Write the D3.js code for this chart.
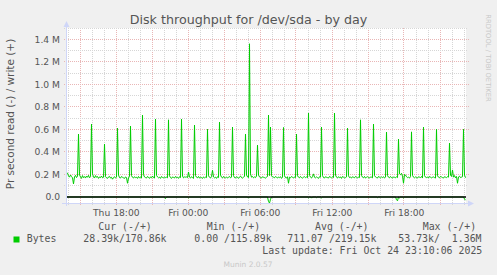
<!DOCTYPE html>
<html>
<head>
<meta charset="utf-8">
<script src="https://cdn.jsdelivr.net/npm/d3@7"></script>
<style>
  body { margin: 0; background: #f0f0f0; }
  svg { display: block; }
  text { font-family: "DejaVu Sans", sans-serif; fill: #555; }
  .mono { font-family: "DejaVu Sans Mono", monospace; white-space: pre; }
</style>
</head>
<body>
<svg id="chart" width="497" height="275"></svg>
<script>
// 5 minute samples, first one at Thu 13:55
const firstSample = "2025-10-23T13:55:00";
const stepMinutes = 5;

// write bytes per second, in k
const writeK = [
  205, 212, 188, 176, 195, 182, 170, 116, 178, 192, 172, 184, 558, 196, 178, 165, 190, 172, 181, 168,
  186, 175, 192, 170, 180, 647, 205, 178, 168, 190, 175, 182, 165, 178, 172, 186, 170, 175, 469, 182,
  170, 165, 178, 183, 168, 175, 158, 172, 180, 168, 176, 611, 195, 172, 168, 182, 175, 170, 165, 178,
  172, 122, 168, 185, 629, 190, 175, 168, 180, 172, 176, 165, 182, 170, 175, 168, 727, 198, 178, 172,
  168, 182, 175, 165, 178, 170, 186, 172, 168, 691, 192, 178, 170, 176, 165, 182, 174, 168, 178, 172,
  176, 170, 685, 188, 172, 165, 178, 174, 168, 182, 172, 176, 165, 180, 172, 691, 186, 170, 178, 176,
  178, 172, 222, 176, 168, 180, 172, 165, 638, 190, 176, 170, 182, 168, 175, 172, 165, 178, 170, 176,
  172, 602, 188, 175, 168, 182, 237, 178, 170, 176, 165, 180, 172, 665, 195, 176, 168, 182, 172, 170,
  178, 168, 175, 182, 170, 176, 620, 190, 172, 168, 180, 175, 165, 178, 186, 172, 168, 176, 182, 558,
  195, 178, 172, 1360, 205, 176, 182, 170, 178, 172, 186, 460, 195, 178, 172, 168, 180, 175, 172, 168,
  176, 182, 727, 190, 620, 188, 178, 176, 170, 182, 175, 168, 178, 172, 180, 165, 176, 617, 190, 172,
  168, 180, 122, 176, 170, 182, 175, 168, 178, 172, 558, 188, 176, 170, 182, 172, 168, 176, 180, 172,
  178, 170, 745, 192, 176, 168, 182, 205, 175, 170, 178, 172, 165, 180, 176, 620, 190, 172, 168, 180,
  175, 172, 168, 182, 176, 170, 178, 172, 745, 195, 176, 168, 180, 172, 178, 165, 182, 176, 170, 172,
  178, 611, 188, 172, 176, 168, 180, 175, 170, 182, 176, 168, 178, 172, 685, 192, 176, 170, 182, 168,
  175, 180, 172, 168, 178, 176, 170, 647, 190, 178, 172, 168, 182, 176, 170, 178, 172, 180, 168, 176,
  576, 190, 176, 170, 182, 172, 168, 178, 175, 170, 180, 172, 513, 205, 198, 210, 185, 122, 200, 195,
  180, 172, 176, 168, 182, 578, 192, 176, 170, 178, 172, 168, 180, 176, 172, 182, 168, 620, 190, 176,
  172, 178, 168, 182, 176, 170, 175, 178, 172, 168, 600, 188, 176, 170, 182, 178, 172, 168, 180, 176,
  172, 180, 176, 478, 195, 182, 240, 176, 190, 170, 182, 122, 178, 185, 172, 176, 180, 602, 195, 171
];

// read bytes per second (drawn negative); zero at every other sample
const readSampleIndex = [99, 122, 182, 202, 203, 204, 242, 245, 250, 255, 311, 330, 331, 333, 337, 398, 399];
const readK = [14, 8, 10, 40, 53.73, 20, 8, 10, 6, 8, 6, 24, 34, 8, 8, 18, 28.39];

const yTickValues = [0, 0.2e6, 0.4e6, 0.6e6, 0.8e6, 1.0e6, 1.2e6, 1.4e6];
const yTickLabels = ["0.0", "0.2 M", "0.4 M", "0.6 M", "0.8 M", "1.0 M", "1.2 M", "1.4 M"];
const xTickTimes = ["2025-10-23T18:00:00", "2025-10-24T00:00:00", "2025-10-24T06:00:00",
                    "2025-10-24T12:00:00", "2025-10-24T18:00:00"];
const xTickLabels = ["Thu 18:00", "Fri 00:00", "Fri 06:00", "Fri 12:00", "Fri 18:00"];

const legendHeaders = ["Cur (-/+)", "Min (-/+)", "Avg (-/+)", "Max (-/+)"];
const legendValues = ["28.39k/170.86k", "0.00 /115.89k", "711.07 /219.15k", "53.73k/  1.36M"];
const seriesName = "Bytes";
const lastUpdate = "Last update: Fri Oct 24 23:10:06 2025";

const parse = d3.timeParse("%Y-%m-%dT%H:%M:%S");
const t0 = parse(firstSample);
const times = writeK.map((d, i) => d3.timeMinute.offset(t0, i * stepMinutes));

const writeData = writeK.map((v, i) => ({t: times[i], v: v * 1000}));
const readData = times.map((t, i) => {
  const k = readSampleIndex.indexOf(i);
  return {t: t, v: k < 0 ? 0 : -readK[k] * 1000};
});

const plotLeft = 66, plotRight = 466, plotTop = 28, plotBottom = 203;

const x = d3.scaleTime()
  .domain([d3.timeMinute.offset(t0, -stepMinutes), times[times.length - 1]])
  .range([plotLeft - 0.5, plotRight - 0.5]);
const y = d3.scaleLinear()
  .domain([-53400, 1.5e6])
  .range([plotBottom, plotTop]);

const svg = d3.select("#chart");

svg.append("rect")
  .attr("x", plotLeft).attr("y", plotTop)
  .attr("width", plotRight - plotLeft).attr("height", plotBottom - plotTop)
  .attr("fill", "#fff");

// grid
const grid = svg.append("g").attr("stroke-dasharray", "1,1").attr("stroke-width", 1);
const snap = v => Math.round(v) + 0.5;
const minorColor = "#d6d6d6", majorColor = "#e9b6b6";

x.ticks(d3.timeHour.every(1)).forEach(t => {
  const major = t.getHours() % 3 === 0;
  grid.append("line")
    .attr("x1", snap(x(t))).attr("x2", snap(x(t)))
    .attr("y1", plotTop).attr("y2", plotBottom + 2)
    .attr("stroke", major ? majorColor : minorColor);
});
d3.range(1, 16).forEach(k => {
  const v = k * 1e5;
  const major = k % 2 === 0;
  grid.append("line")
    .attr("x1", plotLeft - 2).attr("x2", plotRight + (major ? 3 : 2))
    .attr("y1", snap(y(v) - 0.5)).attr("y2", snap(y(v) - 0.5))
    .attr("stroke", major ? majorColor : minorColor);
});

const line = d3.line()
  .x(d => x(d.t))
  .y(d => y(d.v));

svg.append("path")
  .datum(readData)
  .attr("d", line)
  .attr("fill", "none")
  .attr("stroke", "#00cc00")
  .attr("stroke-width", 1);

svg.append("path")
  .datum(writeData)
  .attr("d", line)
  .attr("fill", "none")
  .attr("stroke", "#00cc00")
  .attr("stroke-width", 1);

// zero line
svg.append("line")
  .attr("x1", plotLeft).attr("x2", plotRight)
  .attr("y1", y(0)).attr("y2", y(0))
  .attr("stroke", "#000").attr("stroke-width", 1.4);

// axes with arrows
const axisColor = "#cfd6f8";
svg.append("line")
  .attr("x1", plotLeft - 4).attr("x2", plotRight + 4)
  .attr("y1", plotBottom + 0.5).attr("y2", plotBottom + 0.5)
  .attr("stroke", axisColor);
svg.append("path")
  .attr("d", `M${plotRight + 2},${plotBottom - 2.5}L${plotRight + 8},${plotBottom + 0.5}L${plotRight + 2},${plotBottom + 3.5}Z`)
  .attr("fill", axisColor);
svg.append("line")
  .attr("x1", plotLeft + 0.5).attr("x2", plotLeft + 0.5)
  .attr("y1", plotBottom + 3).attr("y2", plotTop - 4)
  .attr("stroke", axisColor);
svg.append("path")
  .attr("d", `M${plotLeft - 2.5},${plotTop - 1}L${plotLeft + 0.5},${plotTop - 7}L${plotLeft + 3.5},${plotTop - 1}Z`)
  .attr("fill", axisColor);

// tick labels
svg.append("g").selectAll("text")
  .data(yTickValues)
  .join("text")
  .attr("x", 60)
  .attr("y", d => y(d) + 3.4)
  .attr("text-anchor", "end")
  .attr("font-size", "9.2px")
  .text((d, i) => yTickLabels[i]);

svg.append("g").selectAll("text")
  .data(xTickTimes)
  .join("text")
  .attr("x", d => x(parse(d)) + 0.8)
  .attr("y", 216)
  .attr("text-anchor", "middle")
  .attr("font-size", "9.2px")
  .text((d, i) => xTickLabels[i]);

// title and side texts
svg.append("text")
  .attr("x", 248.5).attr("y", 24)
  .attr("text-anchor", "middle")
  .attr("font-size", "12.7px")
  .text("Disk throughput for /dev/sda - by day");

svg.append("text")
  .attr("transform", "translate(14,114) rotate(-90)")
  .attr("text-anchor", "middle")
  .attr("font-size", "10.5px")
  .text("Pr second read (-) / write (+)");

svg.append("text")
  .attr("transform", "translate(486,58) rotate(90)")
  .attr("text-anchor", "middle")
  .attr("font-size", "6.8px")
  .style("fill", "#c8c8c8")
  .text("RRDTOOL / TOBI OETIKER");

// legend
const headerX = [98.3, 206.7, 315, 422.7];
const valueX = [83.3, 194.3, 287.3, 398.3];
const legend = svg.append("g").attr("class", "mono").attr("font-size", "9.9px");
legend.selectAll("text.h")
  .data(legendHeaders)
  .join("text")
  .attr("class", "h mono")
  .attr("x", (d, i) => headerX[i])
  .attr("y", 230)
  .text(d => d);
legend.append("rect")
  .attr("x", 13.5).attr("y", 236.5).attr("width", 6).attr("height", 6)
  .attr("fill", "#00cc00");
legend.append("text")
  .attr("class", "mono")
  .attr("x", 26.7).attr("y", 242)
  .text(seriesName);
legend.selectAll("text.v")
  .data(legendValues)
  .join("text")
  .attr("class", "v mono")
  .attr("x", (d, i) => valueX[i])
  .attr("y", 242)
  .text(d => d);
legend.append("text")
  .attr("class", "mono")
  .attr("x", 482.3).attr("y", 254)
  .attr("text-anchor", "end")
  .text(lastUpdate);

svg.append("text")
  .attr("x", 248).attr("y", 267)
  .attr("text-anchor", "middle")
  .attr("font-size", "7.5px")
  .style("fill", "#c8c8c8")
  .text("Munin 2.0.57");
</script>
</body>
</html>
